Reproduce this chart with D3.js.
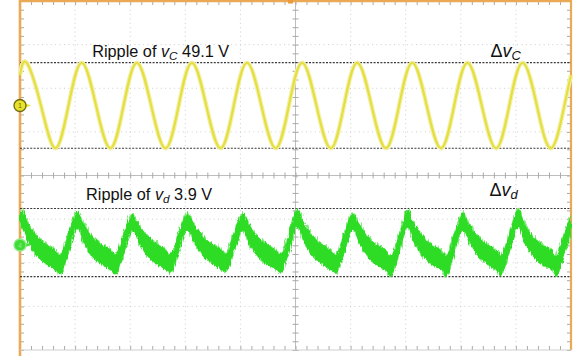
<!DOCTYPE html>
<html>
<head>
<meta charset="utf-8">
<script src="https://cdn.jsdelivr.net/npm/d3@7"></script>
<style>
  html, body { margin: 0; padding: 0; background: #fff; }
  svg { display: block; }
  text { font-family: "Liberation Sans", Arial, sans-serif; fill: #111; }
</style>
</head>
<body>
<svg id="scope" width="577" height="356"></svg>
<script>
// ---- Ch1: capacitor voltage ripple v_C (AC coupled, volts), time in divisions ----
const vcTime = [0,
  0.12, 0.38, 0.64, 0.88, 1.12, 1.38, 1.64, 1.88, 2.12, 2.38, 2.64, 2.88,
  3.12, 3.38, 3.64, 3.88, 4.12, 4.38, 4.64, 4.88, 5.12, 5.38, 5.64, 5.88,
  6.12, 6.38, 6.64, 6.88, 7.12, 7.38, 7.64, 7.88, 8.12, 8.38, 8.64, 8.88,
  9.12, 9.38, 9.64, 9.88, 10];
const vcValue = [17.4,
  24.5, 0, -24.5, 0, 24.55, 0, -24.5, 0, 24.5, 0, -24.55, 0,
  24.5, 0, -24.5, 0, 24.55, 0, -24.5, 0, 24.5, 0, -24.55, 0,
  24.5, 0, -24.5, 0, 24.55, 0, -24.5, 0, 24.5, 0, -24.55, 0,
  24.5, 0, -24.5, 0, 17.4];

// ---- Ch4: v_d, noisy trace given as upper / lower envelope (volts) ----
const vdTime = [0,
  0.04, 0.15, 0.29, 0.49, 0.66, 0.73, 0.88,
  1.04, 1.15, 1.29, 1.49, 1.66, 1.73, 1.88,
  2.04, 2.15, 2.29, 2.49, 2.66, 2.73, 2.88,
  3.04, 3.15, 3.29, 3.49, 3.66, 3.73, 3.88,
  4.04, 4.15, 4.29, 4.49, 4.66, 4.73, 4.88,
  5.04, 5.15, 5.29, 5.49, 5.66, 5.73, 5.88,
  6.04, 6.15, 6.29, 6.49, 6.66, 6.73, 6.88,
  7.04, 7.15, 7.29, 7.49, 7.66, 7.73, 7.88,
  8.04, 8.15, 8.29, 8.49, 8.66, 8.73, 8.88,
  9.04, 9.15, 9.29, 9.49, 9.66, 9.73, 9.88,
  10];
const vdHigh = [1.80,
  2.00, 1.30, 0.62, 0.06, -0.30, -0.55, 0.72,
  1.97, 1.28, 0.60, 0.04, -0.28, -0.52, 0.70,
  1.83, 1.25, 0.64, 0.08, -0.26, -0.50, 0.74,
  1.89, 1.31, 0.66, 0.10, -0.25, -0.48, 0.75,
  1.83, 1.27, 0.62, 0.07, -0.27, -0.50, 0.73,
  2.09, 1.34, 0.63, 0.05, -0.30, -0.56, 0.71,
  1.89, 1.30, 0.60, 0.02, -0.33, -0.62, 0.68,
  2.03, 1.33, 0.61, 0.03, -0.32, -0.60, 0.70,
  1.89, 1.29, 0.62, 0.05, -0.30, -0.57, 0.72,
  2.09, 1.35, 0.64, 0.04, -0.31, -0.60, 0.74,
  1.80];
const vdLow = [0.62,
  1.00, 0.18, -0.55, -1.12, -1.45, -1.66, -0.50,
  0.98, 0.16, -0.57, -1.13, -1.44, -1.66, -0.52,
  0.85, 0.14, -0.54, -1.10, -1.42, -1.60, -0.48,
  0.90, 0.19, -0.52, -1.08, -1.40, -1.55, -0.47,
  0.85, 0.15, -0.56, -1.11, -1.42, -1.58, -0.49,
  1.05, 0.20, -0.55, -1.13, -1.46, -1.62, -0.51,
  0.90, 0.17, -0.58, -1.16, -1.50, -1.81, -0.55,
  1.02, 0.19, -0.57, -1.15, -1.49, -1.81, -0.53,
  0.90, 0.16, -0.55, -1.13, -1.47, -1.72, -0.50,
  1.06, 0.21, -0.54, -1.14, -1.48, -1.81, -0.49,
  0.60];

// ---- cursor readings (peak-to-peak ripple) ----
const vcRipple = 49.1, vcPeak = 24.55;
const vdRipple = 3.9,  vdPeak = 2.09;

// ---- channel settings: vertical position (div) and V/div ----
const ch1 = { offset: 1.605, voltsPerDiv: 25 };
const ch4 = { offset: -1.593, voltsPerDiv: 2.5 };

const svg = d3.select("#scope");
const pLeft = 20, pRight = 571, pTop = 1, pBottom = 350;

const x = d3.scaleLinear().domain([0, 10]).range([pLeft, pRight]);
const yDiv = d3.scaleLinear().domain([-4, 4]).range([pBottom, pTop]);
const yCh = ch => v => yDiv(ch.offset + v / ch.voltsPerDiv);
const y1 = yCh(ch1), y4 = yCh(ch4);

// ---- graticule ----
const grid = svg.append("g").attr("class", "graticule");
const majorX = d3.range(1, 10), majorY = d3.range(-3, 4);
grid.selectAll("line.vx").data(majorX).join("line")
  .attr("x1", d => x(d)).attr("x2", d => x(d))
  .attr("y1", pTop).attr("y2", pBottom)
  .attr("stroke", "#cdcdcd").attr("stroke-width", 1)
  .attr("stroke-dasharray", "1,3.36");
grid.selectAll("line.hy").data(majorY).join("line")
  .attr("x1", pLeft).attr("x2", pRight)
  .attr("y1", d => yDiv(d)).attr("y2", d => yDiv(d))
  .attr("stroke", "#cdcdcd").attr("stroke-width", 1)
  .attr("stroke-dasharray", "1,3.4");

// centre cross with minor ticks
const minorX = d3.range(0, 10.001, 0.2), minorY = d3.range(-4, 4.001, 0.2);
const cx = x(5), cy = yDiv(0);
grid.append("line").attr("x1", pLeft).attr("x2", pRight).attr("y1", cy).attr("y2", cy)
  .attr("stroke", "#bdbdbd").attr("stroke-width", 1);
grid.append("line").attr("x1", cx).attr("x2", cx).attr("y1", pTop).attr("y2", pBottom)
  .attr("stroke", "#bdbdbd").attr("stroke-width", 1);

const tickStyle = g => {
  g.select(".domain").remove();
  g.selectAll(".tick text").remove();
  g.selectAll(".tick line").attr("stroke", "#a9a9a9");
};
// ticks on the centre lines (both sides)
grid.append("g").attr("transform", `translate(0,${cy + 3})`)
  .call(d3.axisTop(x).tickValues(minorX).tickSize(6).tickFormat(""))
  .call(tickStyle);
grid.append("g").attr("transform", `translate(${cx - 3},0)`)
  .call(d3.axisRight(yDiv).tickValues(minorY).tickSize(6).tickFormat(""))
  .call(tickStyle);
// ticks on the frame edges
grid.append("g").attr("transform", `translate(0,${pBottom})`)
  .call(d3.axisTop(x).tickValues(minorX).tickSize(4).tickFormat(""))
  .call(tickStyle);
grid.append("g").attr("transform", `translate(0,${pTop})`)
  .call(d3.axisBottom(x).tickValues(minorX).tickSize(4).tickFormat(""))
  .call(tickStyle);
grid.append("g").attr("transform", `translate(${pLeft},0)`)
  .call(d3.axisRight(yDiv).tickValues(minorY).tickSize(4).tickFormat(""))
  .call(tickStyle);
grid.append("g").attr("transform", `translate(${pRight},0)`)
  .call(d3.axisLeft(yDiv).tickValues(minorY).tickSize(4).tickFormat(""))
  .call(tickStyle);

// ---- frame ----
svg.append("line").attr("x1", pLeft).attr("x2", pLeft).attr("y1", 0).attr("y2", 356)
  .attr("stroke", "#eaa954").attr("stroke-width", 2.6);
svg.append("line").attr("x1", pLeft).attr("x2", pRight + 1).attr("y1", pTop).attr("y2", pTop)
  .attr("stroke", "#eaa954").attr("stroke-width", 2.4);
svg.append("line").attr("x1", pRight).attr("x2", pRight).attr("y1", 0).attr("y2", pBottom)
  .attr("stroke", "#eaa954").attr("stroke-width", 2.2);
svg.append("line").attr("x1", pLeft).attr("x2", pRight).attr("y1", pBottom).attr("y2", pBottom)
  .attr("stroke", "#cfcfcf").attr("stroke-width", 1);
// trigger position marker
svg.append("rect").attr("x", x(4.9) - 2).attr("y", 0).attr("width", 5).attr("height", 3.5)
  .attr("fill", "#ee9a3a");

// ---- filters for the noisy trace ----
const defs = svg.append("defs");
const f = defs.append("filter").attr("id", "grain")
  .attr("x", "-2%").attr("y", "-30%").attr("width", "104%").attr("height", "160%");
f.append("feTurbulence").attr("type", "fractalNoise").attr("baseFrequency", "0.85 0.06")
  .attr("numOctaves", 2).attr("seed", 7).attr("result", "n");
f.append("feDisplacementMap").attr("in", "SourceGraphic").attr("in2", "n")
  .attr("scale", 8).attr("xChannelSelector", "R").attr("yChannelSelector", "G");
const f2 = defs.append("filter").attr("id", "grain2")
  .attr("x", "-2%").attr("y", "-30%").attr("width", "104%").attr("height", "160%");
f2.append("feTurbulence").attr("type", "fractalNoise").attr("baseFrequency", "0.7 0.09")
  .attr("numOctaves", 2).attr("seed", 21).attr("result", "n");
f2.append("feDisplacementMap").attr("in", "SourceGraphic").attr("in2", "n")
  .attr("scale", 5).attr("xChannelSelector", "R").attr("yChannelSelector", "G");

// ---- cursor lines ----
const cursors = [vcPeak, vcPeak - vcRipple].map(v => y1(v))
  .concat([vdPeak, vdPeak - vdRipple].map(v => y4(v)));
svg.append("g").selectAll("line").data(cursors).join("line")
  .attr("x1", pLeft).attr("x2", pRight)
  .attr("y1", d => d).attr("y2", d => d)
  .attr("stroke", "#3a3a3a").attr("stroke-width", 1.1)
  .attr("stroke-dasharray", "2,1.4");

// ---- Ch1 trace ----
const vcPts = vcTime.map((t, i) => [t, vcValue[i]]);
const vcLine = d3.line().x(d => x(d[0])).y(d => y1(d[1])).curve(d3.curveNatural);
svg.append("path").attr("d", vcLine(vcPts)).attr("fill", "none")
  .attr("stroke", "#f2efa6").attr("stroke-width", 4.4);
svg.append("path").attr("d", vcLine(vcPts)).attr("fill", "none")
  .attr("stroke", "#e4df3c").attr("stroke-width", 2);

// ---- Ch4 trace ----
const vdPts = vdTime.map((t, i) => [t, vdHigh[i], vdLow[i]]);
const vdArea = d3.area().x(d => x(d[0])).y0(d => y4(d[2])).y1(d => y4(d[1]))
  .curve(d3.curveMonotoneX);
const trace4 = svg.append("g");
trace4.append("path").attr("d", vdArea(vdPts)).attr("fill", "#86ea80")
  .attr("filter", "url(#grain)");
trace4.append("path").attr("d", vdArea(vdPts)).attr("fill", "#2fdc27")
  .attr("filter", "url(#grain2)").attr("transform", "translate(0,0.5)");

// ---- channel ground markers ----
const marker = (yy, fill, stroke, label) => {
  const g = svg.append("g").attr("transform", `translate(${pLeft},${yy})`);
  g.append("path").attr("d", "M4,-2.4 L11,0 L4,2.4 Z").attr("fill", fill);
  g.append("circle").attr("r", 6).attr("fill", fill).attr("stroke", stroke).attr("stroke-width", 1.3);
  g.append("text").attr("text-anchor", "middle").attr("y", 2.6)
    .attr("font-size", 7).style("fill", stroke).text(label);
};
marker(y1(0), "#e8e22a", "#6f6a12", "1");
marker(y4(0), "#3fdc36", "#8ee98a", "4");

// ---- annotations ----
const note = (xx, yy, size, pre, sub, post) => {
  const t = svg.append("text").attr("x", xx).attr("y", yy).attr("font-size", size);
  t.append("tspan").text(pre);
  t.append("tspan").attr("font-style", "italic").text("v");
  t.append("tspan").attr("font-style", "italic").attr("font-size", size * 0.72)
    .attr("dy", size * 0.19).text(sub);
  t.append("tspan").attr("dy", -size * 0.19).text(post);
};
note(x(1.31), y1(vcPeak) - 6, 16.3, "Ripple of ", "C", ` ${vcRipple} V`);
note(x(1.2), y4(vdPeak) - 9, 16.3, "Ripple of ", "d", ` ${vdRipple} V`);
note(x(8.54), y1(vcPeak) - 6, 18, "Δ", "C", "");
note(x(8.52), y4(vdPeak) - 13, 18, "Δ", "d", "");
</script>
</body>
</html>
